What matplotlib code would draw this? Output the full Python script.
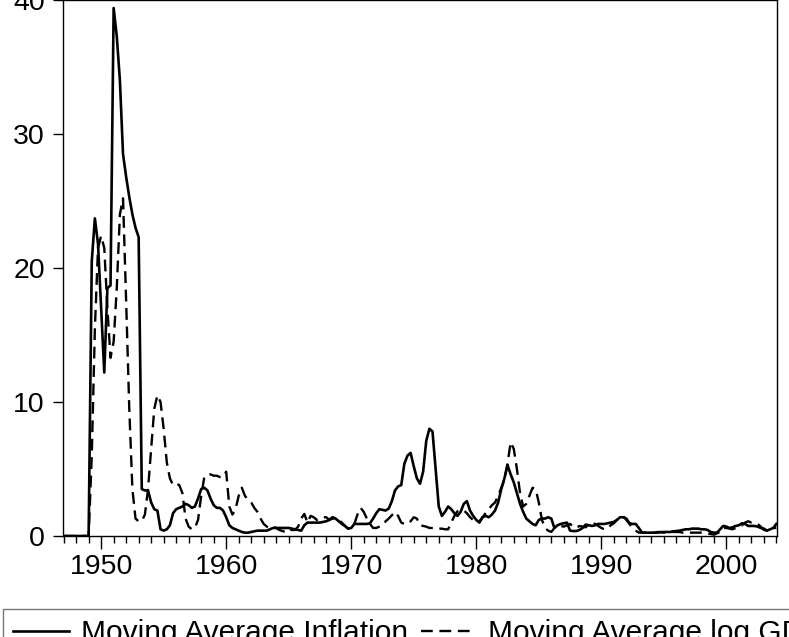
import numpy as np
import matplotlib
matplotlib.use("Agg")
import matplotlib.pyplot as plt
from matplotlib.ticker import MultipleLocator

plt.rcParams['font.family'] = ['Liberation Sans', 'DejaVu Sans']

# quarterly data, 1947Q1 .. 2004Q1 (one row per year)
first_year = 1947

inflation_ma = [
    0, 0, 0, 0,                 # 1947
    0, 0, 0, 0,                 # 1948
    0, 20.5, 23.7, 21.8,        # 1949
    17.0, 12.2, 18.5, 18.7,     # 1950
    39.4, 37.3, 34.0, 28.5,     # 1951
    26.8, 25.3, 24.0, 23.0,     # 1952
    22.3, 3.5, 3.4, 3.4,        # 1953
    2.5, 2.0, 1.9, 0.5,         # 1954
    0.4, 0.5, 0.8, 1.7,         # 1955
    2.0, 2.1, 2.2, 2.4,         # 1956
    2.3, 2.1, 2.2, 2.8,         # 1957
    3.5, 3.6, 3.4, 2.8,         # 1958
    2.3, 2.1, 2.1, 1.9,         # 1959
    1.4, 0.8, 0.6, 0.5,         # 1960
    0.4, 0.3, 0.25, 0.25,       # 1961
    0.3, 0.35, 0.4, 0.4,        # 1962
    0.4, 0.4, 0.5, 0.6,         # 1963
    0.6, 0.6, 0.6, 0.6,         # 1964
    0.6, 0.55, 0.5, 0.45,       # 1965
    0.4, 0.8, 1.0, 1.0,         # 1966
    1.0, 1.0, 1.0, 1.05,        # 1967
    1.1, 1.2, 1.4, 1.3,         # 1968
    1.1, 0.9, 0.75, 0.55,       # 1969
    0.6, 0.9, 0.9, 0.9,         # 1970
    0.9, 0.9, 0.95, 1.3,        # 1971
    1.7, 2.0, 1.95, 1.9,        # 1972
    2.05, 2.6, 3.4, 3.7,        # 1973
    3.8, 5.4, 6.0, 6.2,         # 1974
    5.2, 4.3, 3.9, 4.8,         # 1975
    7.1, 8.0, 7.8, 5.0,         # 1976
    2.2, 1.5, 1.8, 2.2,         # 1977
    2.0, 1.7, 1.5, 1.8,         # 1978
    2.4, 2.6, 1.9, 1.5,         # 1979
    1.2, 1.0, 1.4, 1.5,         # 1980
    1.4, 1.6, 1.9, 2.5,         # 1981
    3.5, 4.3, 5.3, 4.6,         # 1982
    4.0, 3.2, 2.4, 1.8,         # 1983
    1.3, 1.1, 0.9, 0.8,         # 1984
    1.2, 1.3, 1.3, 1.4,         # 1985
    1.3, 0.6, 0.8, 0.9,         # 1986
    0.95, 1.0, 0.4, 0.37,       # 1987
    0.37, 0.45, 0.6, 0.85,      # 1988
    0.8, 0.75, 0.8, 0.9,        # 1989
    0.9, 0.9, 0.95, 1.0,        # 1990
    1.05, 1.2, 1.4, 1.4,        # 1991
    1.3, 0.95, 0.9, 0.9,        # 1992
    0.6, 0.25, 0.25, 0.25,      # 1993
    0.25, 0.25, 0.25, 0.28,     # 1994
    0.3, 0.3, 0.3, 0.35,        # 1995
    0.37, 0.4, 0.45, 0.5,       # 1996
    0.5, 0.55, 0.55, 0.55,      # 1997
    0.5, 0.5, 0.45, 0.3,        # 1998
    0.25, 0.25, 0.5, 0.75,      # 1999
    0.7, 0.6, 0.65, 0.75,       # 2000
    0.8, 0.95, 0.9, 0.75,       # 2001
    0.75, 0.75, 0.7, 0.6,       # 2002
    0.55, 0.4, 0.5, 0.6,        # 2003
    0.9,                        # 2004
]

log_gdp_ma = [
    0, 0, 0, 0,                 # 1947
    0, 0, 0, 0,                 # 1948
    0, 6.0, 15.5, 21.5,         # 1949
    22.4, 21.5, 17.0, 13.3,     # 1950
    14.5, 18.5, 24.0, 25.2,     # 1951
    17.5, 9.5, 3.5, 1.3,        # 1952
    1.1, 1.1, 1.6, 3.5,         # 1953
    6.5, 9.5, 10.5, 10.0,       # 1954
    8.0, 5.5, 4.3, 3.8,         # 1955
    3.9, 3.8, 3.2, 1.3,         # 1956
    0.7, 0.5, 0.6, 1.2,         # 1957
    3.0, 4.4, 4.6, 4.6,         # 1958
    4.5, 4.5, 4.4, 4.4,         # 1959
    4.8, 2.2, 1.6, 2.0,         # 1960
    3.0, 3.6, 3.0, 2.7,         # 1961
    2.5, 2.1, 1.8, 1.3,         # 1962
    0.9, 0.7, 0.6, 0.7,         # 1963
    0.6, 0.45, 0.37, 0.3,       # 1964
    0.5, 0.45, 0.45, 0.7,       # 1965
    1.3, 1.65, 1.0, 1.5,        # 1966
    1.4, 1.2, 1.3, 1.4,         # 1967
    1.4, 1.2, 1.3, 1.3,         # 1968
    1.2, 1.0, 0.75, 0.55,       # 1969
    0.6, 0.9, 1.6, 2.1,         # 1970
    1.8, 1.3, 0.9, 0.6,         # 1971
    0.6, 0.7, 0.8, 1.1,         # 1972
    1.3, 1.55, 1.8, 1.5,        # 1973
    1.0, 0.9, 0.9, 1.1,         # 1974
    1.4, 1.3, 0.8, 0.75,        # 1975
    0.7, 0.6, 0.6, 0.6,         # 1976
    0.55, 0.55, 0.5, 0.5,       # 1977
    1.0, 1.5, 1.85, 1.95,       # 1978
    1.9, 1.7, 1.4, 1.2,         # 1979
    1.0, 1.1, 1.4, 1.7,         # 1980
    2.0, 2.3, 2.5, 3.0,         # 1981
    3.6, 4.2, 5.4, 7.0,         # 1982
    6.5, 5.0, 3.2, 2.2,         # 1983
    2.4, 3.0, 3.6, 3.5,         # 1984
    2.5, 1.2, 0.6, 0.4,         # 1985
    0.3, 0.6, 0.75, 0.75,       # 1986
    0.7, 0.8, 0.9, 0.7,         # 1987
    0.6, 0.75, 0.7, 0.65,       # 1988
    0.9, 1.0, 0.9, 0.75,        # 1989
    0.6, 0.5, 0.55, 0.8,        # 1990
    0.95, 1.2, 1.4, 1.5,        # 1991
    1.2, 0.9, 0.6, 0.4,         # 1992
    0.25, 0.25, 0.25, 0.25,     # 1993
    0.25, 0.25, 0.3, 0.3,       # 1994
    0.25, 0.25, 0.3, 0.3,       # 1995
    0.3, 0.3, 0.25, 0.25,       # 1996
    0.25, 0.25, 0.25, 0.25,     # 1997
    0.25, 0.25, 0.2, 0.15,      # 1998
    0.1, 0.2, 0.3, 0.6,         # 1999
    0.6, 0.55, 0.5, 0.6,        # 2000
    0.75, 0.8, 1.0, 1.1,        # 2001
    1.0, 1.0, 0.9, 0.7,         # 2002
    0.45, 0.4, 0.55, 0.6,       # 2003
    0.6,                        # 2004
]

year_ticks = [1950, 1960, 1970, 1980, 1990, 2000]
value_ticks = [0, 10, 20, 30, 40]
labels = ["Moving Average Inflation", "Moving Average log GDP"]

# quarter dates as fractional years
dates = first_year + np.arange(len(inflation_ma)) / 4.0

# %%
fig = plt.figure(figsize=(7.89, 6.37), dpi=100)
ax = fig.add_axes([63 / 789, 101 / 637, 714 / 789, 536 / 637])

ax.plot(dates, inflation_ma, color='black', lw=1.9, label=labels[0])
ax.plot(dates, log_gdp_ma, color='black', lw=1.7, dashes=(5, 2.8), label=labels[1])

ax.set_xlim(1946.95, 2004.05)
ax.set_ylim(0, 40)
ax.set_xticks(year_ticks)
ax.xaxis.set_minor_locator(MultipleLocator(1))
ax.set_yticks(value_ticks)

ax.tick_params(axis='x', which='major', direction='out', length=9, width=1,
               labelsize=20.5, pad=4, top=False)
ax.tick_params(axis='x', which='minor', direction='out', length=5, width=1, top=False)
ax.tick_params(axis='y', which='major', direction='out', length=7, width=1,
               labelsize=20.5, pad=6, right=False)
for s in ax.spines.values():
    s.set_linewidth(1.0)
    s.set_color('black')

leg = ax.legend(loc='upper left', bbox_to_anchor=(3 / 789, 28 / 637),
                bbox_transform=fig.transFigure, ncol=2, fontsize=21.5,
                frameon=True, fancybox=False, edgecolor='#555555',
                borderaxespad=0, borderpad=0.35, handlelength=1.85,
                handletextpad=0.4, columnspacing=0.45)
leg.get_frame().set_linewidth(1.0)

fig.savefig("out.png", dpi=100)
